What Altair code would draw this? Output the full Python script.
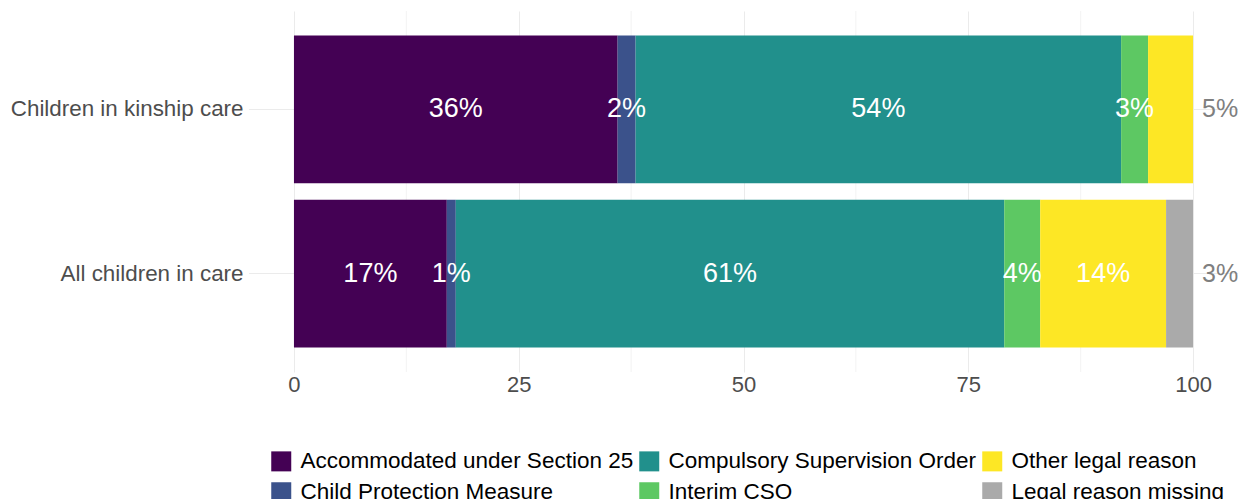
import altair as alt
import pandas as pd

categories = ["Children in kinship care", "All children in care"]
reasons = [
    "Accommodated under Section 25",
    "Child Protection Measure",
    "Compulsory Supervision Order",
    "Interim CSO",
    "Other legal reason",
    "Legal reason missing",
]
colors = ["#440154", "#3B528B", "#21908C", "#5DC863", "#FDE725", "#AAAAAA"]
kinship_values = [36, 2, 54, 3, 5, 0]
all_children_values = [17, 1, 61, 4, 14, 3]
major_ticks = [0, 25, 50, 75, 100]
minor_ticks = [12.5, 37.5, 62.5, 87.5]

rows = []
for cat, vals in zip(categories, [kinship_values, all_children_values]):
    for i, (r, v) in enumerate(zip(reasons, vals)):
        if v > 0:
            rows.append({"category": cat, "reason": r, "value": v, "rank": i, "label": f"{v}%"})
df = pd.DataFrame(rows)

FONT = "Liberation Sans"
GRID = "#EBEBEB"
AXIS_TEXT = "#4D4D4D"

xscale = alt.Scale(domain=[-5, 105], nice=False, zero=False)
yscale = alt.Scale(domain=categories, paddingInner=0.1, paddingOuter=0.15)

x_axis = alt.Axis(
    values=major_ticks, title=None, ticks=False, domain=False,
    labelFontSize=22, labelColor=AXIS_TEXT, gridColor=GRID, gridWidth=1,
    labelPadding=2, labelFlush=False,
)
y_axis = alt.Axis(
    title=None, ticks=False, domain=False, labelFontSize=22.4,
    labelColor=AXIS_TEXT, labelPadding=6, grid=False, labelLimit=400,
)

base = (
    alt.Chart(df)
    .transform_stack(
        stack="value", groupby=["category"], as_=["x0", "x1"],
        sort=[alt.SortField("rank", order="ascending")],
    )
    .transform_joinaggregate(total="sum(value)", groupby=["category"])
    .transform_calculate(
        mid="(datum.x0 + datum.x1) / 2",
        outside="datum.x1 >= datum.total",
    )
)

minor = (
    alt.Chart(pd.DataFrame({"x": minor_ticks}))
    .mark_rule(color=GRID, strokeWidth=0.6)
    .encode(x=alt.X("x:Q", scale=xscale, axis=x_axis))
)

hgrid = (
    alt.Chart(pd.DataFrame({"category": categories}))
    .mark_rule(color=GRID, strokeWidth=1)
    .encode(y=alt.Y("category:N", scale=yscale, sort=categories, axis=y_axis, bandPosition=0.5))
)

bars = base.mark_bar().encode(
    x=alt.X("x0:Q", scale=xscale, axis=x_axis),
    x2="x1:Q",
    y=alt.Y("category:N", scale=yscale, sort=categories, axis=y_axis),
    color=alt.Color(
        "reason:N",
        scale=alt.Scale(domain=reasons, range=colors),
        legend=alt.Legend(
            title=None, orient="none", legendX=21, legendY=439, columns=3,
            symbolType="square", symbolSize=400, symbolStrokeWidth=0,
            symbolOpacity=1, labelFontSize=22.5, labelColor="#000000",
            labelFont=FONT, columnPadding=4, rowPadding=8, labelOffset=8,
            labelLimit=500,
        ),
    ),
)

text_in = (
    base.transform_filter("!datum.outside")
    .mark_text(color="white", fontSize=27, align="center", baseline="middle", font=FONT)
    .encode(
        x=alt.X("mid:Q", scale=xscale, axis=x_axis),
        y=alt.Y("category:N", scale=yscale, sort=categories, axis=y_axis),
        text="label:N",
    )
)

text_out = (
    base.transform_filter("datum.outside")
    .mark_text(color="#7F7F7F", fontSize=25, align="center", baseline="middle", dx=27, font=FONT)
    .encode(
        x=alt.X("x1:Q", scale=xscale, axis=x_axis),
        y=alt.Y("category:N", scale=yscale, sort=categories, axis=y_axis),
        text="label:N",
    )
)

chart = (
    alt.layer(minor, hgrid, bars, text_in, text_out)
    .properties(
        width=989,
        height=361,
        autosize=alt.AutoSizeParams(type="none"),
        padding={"left": 249, "top": 11, "right": 5, "bottom": 127},
    )
    .configure(font=FONT)
    .configure_view(stroke="transparent", strokeWidth=0)
    .configure_axis(labelFont=FONT)
)

chart.save("out.html", embed_options={"renderer": "svg", "actions": False})
